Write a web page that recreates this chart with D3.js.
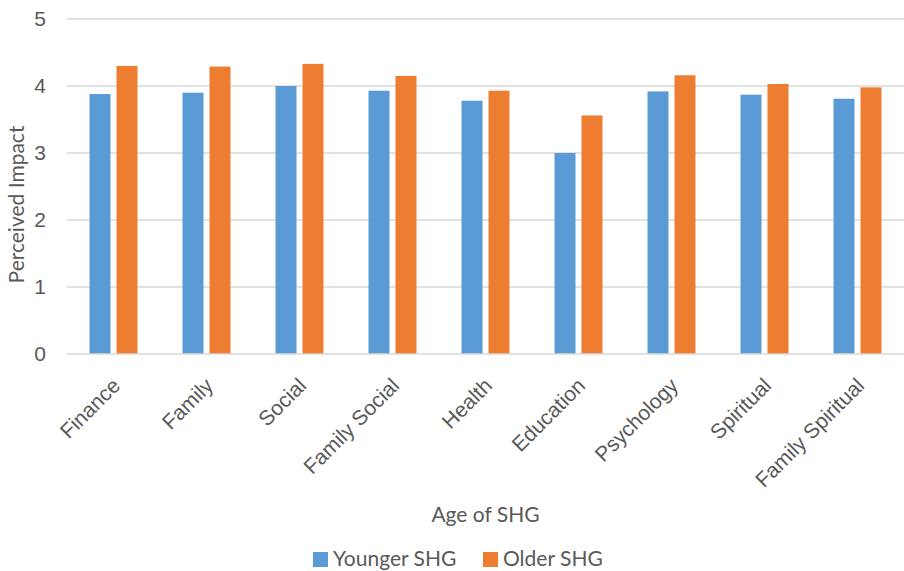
<!DOCTYPE html>
<html>
<head>
<meta charset="utf-8">
<script src="https://cdn.jsdelivr.net/npm/d3@7"></script>
<style>
  html, body { margin: 0; padding: 0; background: #fff; }
  svg { display: block; font-family: Lato, "Open Sans", sans-serif; }
</style>
</head>
<body>
<svg id="chart" width="904" height="571"></svg>
<script>
// Impact areas along the x axis
const categories = ["Finance", "Family", "Social", "Family Social", "Health",
                    "Education", "Psychology", "Spiritual", "Family Spiritual"];
// Mean perceived impact per group
const youngerSHG = [3.88, 3.90, 4.00, 3.93, 3.78, 3.00, 3.92, 3.87, 3.81];
const olderSHG   = [4.30, 4.29, 4.33, 4.15, 3.93, 3.56, 4.16, 4.03, 3.98];
const seriesNames = ["Younger SHG", "Older SHG"];
const yTicks = [0, 1, 2, 3, 4, 5];

const colors = ["#5B9BD5", "#ED7D31"];
const textColor = "#595959";
const fontSize = "21px";

const svg = d3.select("#chart");
const margin = { top: 19, right: 0, bottom: 217, left: 67 };
const width = 904 - margin.left - margin.right;
const height = 571 - margin.top - margin.bottom;

const g = svg.append("g").attr("transform", `translate(${margin.left},${margin.top})`);

const x0 = d3.scaleBand().domain(categories).range([0, width]).paddingInner(0.484).paddingOuter(0.242);
const x1 = d3.scaleBand().domain(seriesNames).range([0, x0.bandwidth()]).paddingInner(0.222);
const y = d3.scaleLinear().domain([0, 5]).range([height, 0]);

// horizontal gridlines
g.append("g")
  .selectAll("line")
  .data(yTicks.filter(t => t > 0))
  .join("line")
  .attr("x1", 0).attr("x2", width)
  .attr("y1", d => y(d)).attr("y2", d => y(d))
  .attr("stroke", "#d9d9d9").attr("stroke-width", 1.3);

// bars
const rows = categories.map((c, i) => ({ cat: c, vals: [youngerSHG[i], olderSHG[i]] }));
g.append("g")
  .selectAll("g")
  .data(rows)
  .join("g")
  .attr("transform", d => `translate(${x0(d.cat)},0)`)
  .selectAll("rect")
  .data(d => d.vals.map((v, j) => ({ key: seriesNames[j], v, j })))
  .join("rect")
  .attr("x", d => x1(d.key))
  .attr("width", x1.bandwidth())
  .attr("y", d => y(d.v))
  .attr("height", d => y(0) - y(d.v))
  .attr("fill", d => colors[d.j]);

// baseline
g.append("line")
  .attr("x1", 0).attr("x2", width)
  .attr("y1", y(0)).attr("y2", y(0))
  .attr("stroke", "#d9d9d9").attr("stroke-width", 1.3);

// y axis labels
const yAxis = g.append("g")
  .call(d3.axisLeft(y).tickValues(yTicks).tickSize(0).tickPadding(21).tickFormat(d3.format("d")));
yAxis.select(".domain").remove();
yAxis.selectAll("text")
  .attr("fill", textColor)
  .style("font-size", fontSize);

// x axis labels, rotated 45 degrees and anchored at their end
const xAxis = g.append("g")
  .attr("transform", `translate(0,${height})`)
  .call(d3.axisBottom(x0).tickSize(0));
xAxis.select(".domain").remove();
xAxis.selectAll("text")
  .attr("fill", textColor)
  .style("font-size", fontSize)
  .attr("text-anchor", "end")
  .attr("x", 0).attr("y", 0).attr("dy", 0)
  .attr("transform", "translate(8,33) rotate(-45)");

// axis titles
svg.append("text")
  .attr("transform", `translate(24,${margin.top + height / 2 + 18}) rotate(-90)`)
  .attr("text-anchor", "middle")
  .attr("fill", textColor)
  .style("font-size", fontSize)
  .text("Perceived Impact");

svg.append("text")
  .attr("x", margin.left + width / 2)
  .attr("y", 522)
  .attr("text-anchor", "middle")
  .attr("fill", textColor)
  .style("font-size", fontSize)
  .text("Age of SHG");

// legend
const legend = svg.append("g").attr("transform", "translate(313,552)");
const legendOffsets = [0, 170];
seriesNames.forEach((name, i) => {
  const item = legend.append("g").attr("transform", `translate(${legendOffsets[i]},0)`);
  item.append("rect").attr("x", 0).attr("y", 0).attr("width", 15).attr("height", 15).attr("fill", colors[i]);
  item.append("text").attr("x", 20).attr("y", 14)
    .attr("fill", textColor).style("font-size", fontSize).text(name);
});
</script>
</body>
</html>
